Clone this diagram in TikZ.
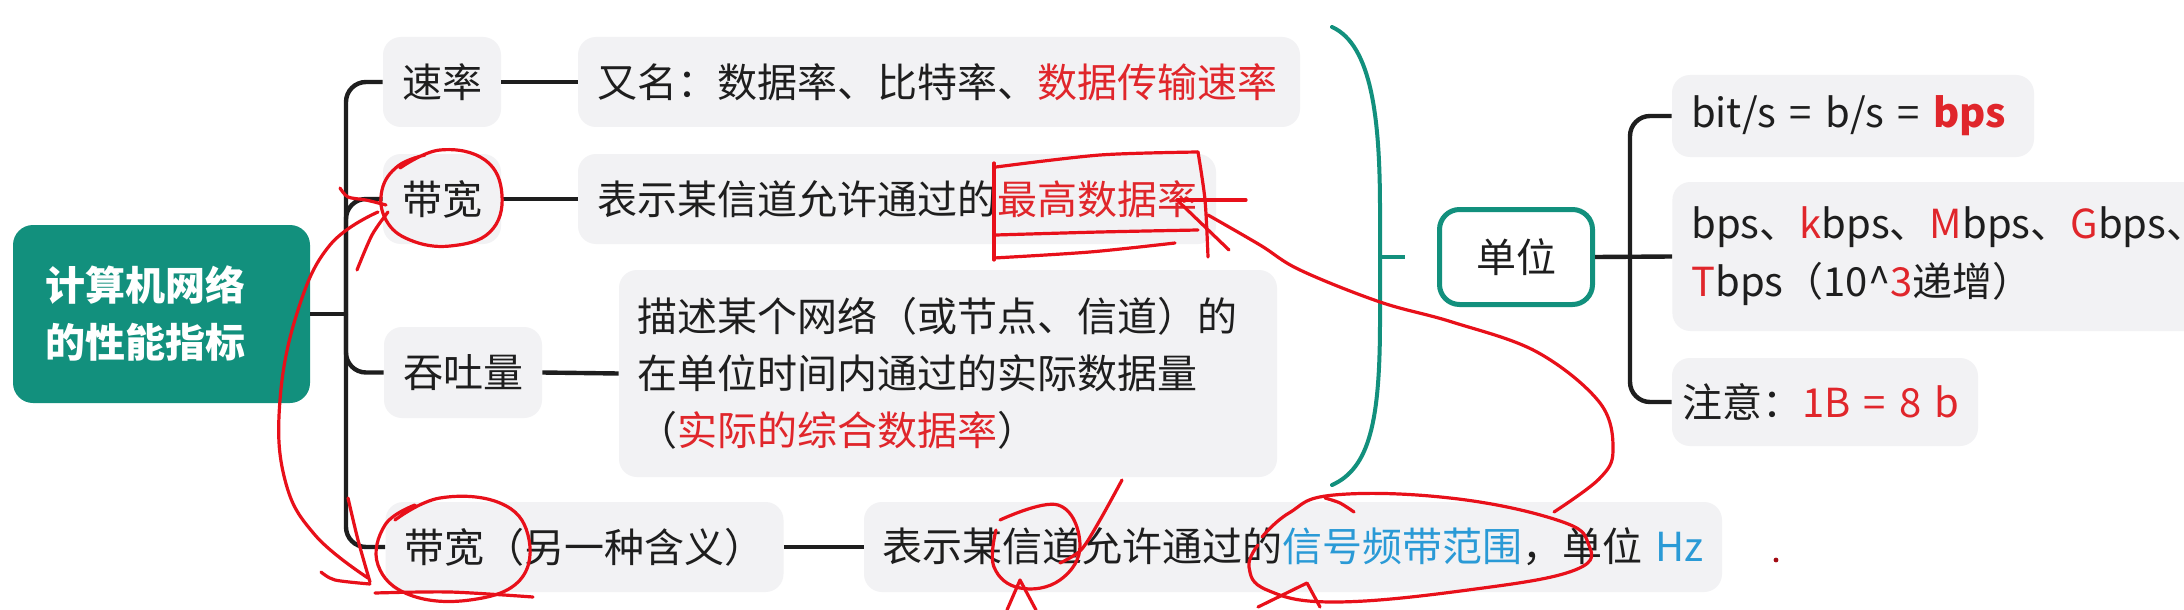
\documentclass[tikz,border=0pt]{standalone}
\usepackage{fontspec}
\setmainfont{Noto Sans CJK SC}
\definecolor{teal1}{HTML}{12907D}
\definecolor{boxg}{HTML}{F2F2F4}
\definecolor{redt}{HTML}{E0262B}
\definecolor{bluet}{HTML}{2A9AD6}
\definecolor{ink}{HTML}{1E1E1E}
\definecolor{pen}{HTML}{E8101A}
\begin{document}
\begin{tikzpicture}[x=0.5pt,y=-0.5pt,
  every node/.style={font=\fontsize{20pt}{28.5pt}\selectfont, text=ink},
  rootbox/.style={fill=teal1, rounded corners=10pt, minimum width=148.5pt, minimum height=89pt,
    text width=116.5pt, align=left, inner xsep=16pt, inner ysep=0pt, text=white,
    font=\fontsize{20pt}{28.5pt}\selectfont\bfseries},
  gbox/.style={fill=boxg, rounded corners=9pt, inner ysep=0pt, inner xsep=9.5pt, align=left},
  unitbox/.style={draw=teal1, line width=2.5pt, fill=white, rounded corners=10pt,
    minimum width=76.5pt, minimum height=47.5pt, inner sep=0pt},
  conn/.style={draw=ink, line width=2.2pt},
  brace/.style={draw=teal1, line width=2pt, line cap=round},
  pen/.style={draw=pen, line width=1.6pt, line cap=round, line join=round}]
\useasboundingbox (0,0) rectangle (2184,610);
\clip (0,0) rectangle (2184,610);
\fill[white] (0,0) rectangle (2184,610);

% root
\node[rootbox] (root) at (161.5,314) {计算机网络\\的性能指标};

% branches
\node[gbox, minimum width=56pt, minimum height=45pt, align=center] (b1) at (442,82) {速率};
\node[gbox, minimum width=56pt, minimum height=45pt, align=center] (b2) at (442,199) {带宽};
\node[gbox, minimum width=77pt, minimum height=45.5pt, align=center] (b3) at (463,372.5) {吞吐量};
\node[gbox, minimum width=198.5pt, minimum height=45pt, align=center] (b4) at (584.5,547) {带宽（另一种含义）};

% details
\node[gbox, minimum width=361pt, minimum height=45pt, text width=342pt] (d1) at (939,82)
  {又名：数据率、比特率、\textcolor{redt}{数据传输速率}};
\node[gbox, minimum width=319pt, minimum height=45pt, text width=300pt] (d2) at (897,199)
  {表示某信道允许通过的\textcolor{redt}{最高数据率}};
\node[gbox, minimum width=329pt, minimum height=103.5pt, text width=311pt, inner xsep=9pt] (d3) at (948,373.5)
  {描述某个网络（或节点、信道）的\\在单位时间内通过的实际数据量\\（\textcolor{redt}{实际的综合数据率}）};
\node[gbox, minimum width=429pt, minimum height=45pt, text width=411pt, inner xsep=9pt] (d4) at (1293,547)
  {表示某信道允许通过的\textcolor{bluet}{信号频带范围}，单位 \textcolor{bluet}{Hz}};

% left connectors
\coordinate (lt) at (346,314);
\draw[conn] (root.east) -- (lt);
\draw[conn, rounded corners=10pt] (lt) |- (b1.west);
\draw[conn, rounded corners=10pt] (lt) |- (b2.west);
\draw[conn, rounded corners=10pt] (lt) |- (b3.west);
\draw[conn, rounded corners=10pt] (lt) |- (b4.west);
\draw[conn] (b1.east) -- (d1.west);
\draw[conn] (b2.east) -- (d2.west);
\draw[conn] (b3.east) -- (d3.west);
\draw[conn] (b4.east) -- (d4.west);

% brace
\coordinate (bt) at (1380,257);
\coordinate (btend) at (1405,257);
\draw[brace] (1332,27) .. controls (1372,45) and (1380,120) .. (1380,210) -- (1380,320)
  .. controls (1380,420) and (1370,468) .. (1332,485);
\draw[brace, line cap=butt] (bt) -- (btend);

% unit
\node[unitbox] (u) at (1516,257) {单位};
\node[gbox, minimum width=181pt, minimum height=41pt, text width=162pt] (r1) at (1853,116)
  {bit/s = b/s = \textcolor{redt}{\bfseries bps}};
\node[gbox, anchor=west, minimum width=270pt, minimum height=74.5pt, text width=251pt, font=\fontsize{20pt}{29pt}\selectfont] (r2) at (1672,256.5)
  {bps、\textcolor{redt}{k}bps、\textcolor{redt}{M}bps、\textcolor{redt}{G}bps、\\\textcolor{redt}{T}bps（10\textasciicircum\textcolor{redt}{3}递增）};
\node[gbox, minimum width=153pt, minimum height=44pt, text width=143pt, inner xsep=5pt] (r3) at (1825,402)
  {注意：\textcolor{redt}{1B = 8 b}};
\coordinate (rt) at (1630,257);
\draw[conn] (u.east) -- (r2.west);
\draw[conn, rounded corners=10pt] (rt) |- (r1.west);
\draw[conn, rounded corners=10pt] (rt) |- (r3.west);

% stray dot
\fill[pen!70!black] (1776,560) circle (1.2pt);

% hand-drawn annotations
\draw[pen] plot[smooth, tension=0.7] coordinates {(400,168) (440,150) (485,160) (502,195) (490,232) (450,246) (410,240) (386,220) (382,190) (398,166) (425,155)};
\draw[pen] plot[smooth] coordinates {(388,212) (372,235) (357,270)};
\draw[pen] plot[smooth] coordinates {(340,188) (348,197) (366,200) (386,205)};
\draw[pen] plot[smooth, tension=0.7] coordinates {(378,212) (330,245) (298,310) (280,400) (285,480) (315,535) (368,578)};
\draw[pen] plot[smooth] coordinates {(348,498) (358,540) (370,582)};
\draw[pen] plot[smooth] coordinates {(321,572) (335,580) (370,584)};
\draw[pen] plot[smooth, tension=0.7] coordinates {(395,520) (440,498) (500,503) (528,535) (520,580) (470,600) (410,595) (378,565) (385,525) (415,505)};
\draw[pen] plot[smooth] coordinates {(375,593) (450,592) (533,597)};
\draw[pen] (994,163) -- (994,260);
\draw[pen] plot[smooth] coordinates {(996,167) (1100,155) (1198,152)};
\draw[pen] plot[smooth] coordinates {(1198,152) (1205,200) (1208,257)};
\draw[pen] plot[smooth] coordinates {(996,235) (1100,232) (1198,230)};
\draw[pen] plot[smooth] coordinates {(994,258) (1090,252) (1175,243)};
\draw[pen] (1177,200) -- (1246,200);
\draw[pen] (1177,200) -- (1229,250);
\draw[pen] plot[smooth, tension=0.6] coordinates {(1208,215) (1260,245) (1300,270) (1380,302) (1452,322) (1537,352) (1600,403) (1613,451) (1599,479) (1554,512)};
\draw[pen] plot[smooth, tension=0.7] coordinates {(1262,537) (1289,513) (1334,495) (1450,498) (1557,520) (1588,543) (1575,570) (1468,590) (1334,602) (1267,590) (1249,567) (1258,545)};
\draw[pen] plot[smooth] coordinates {(1325,498) (1340,503) (1354,512)};
\draw[pen] (1258,607) -- (1307,583) -- (1320,607);
\draw[pen] plot[smooth, tension=0.7] coordinates {(1000,520) (1058,505) (1080,545) (1060,580) (1020,588) (994,567) (996,530)};
\draw[pen] plot[smooth] coordinates {(1122,480) (1100,520) (1081,550) (1060,563)};
\draw[pen] (1007,610) -- (1020,580) -- (1036,610);
\end{tikzpicture}
\end{document}
